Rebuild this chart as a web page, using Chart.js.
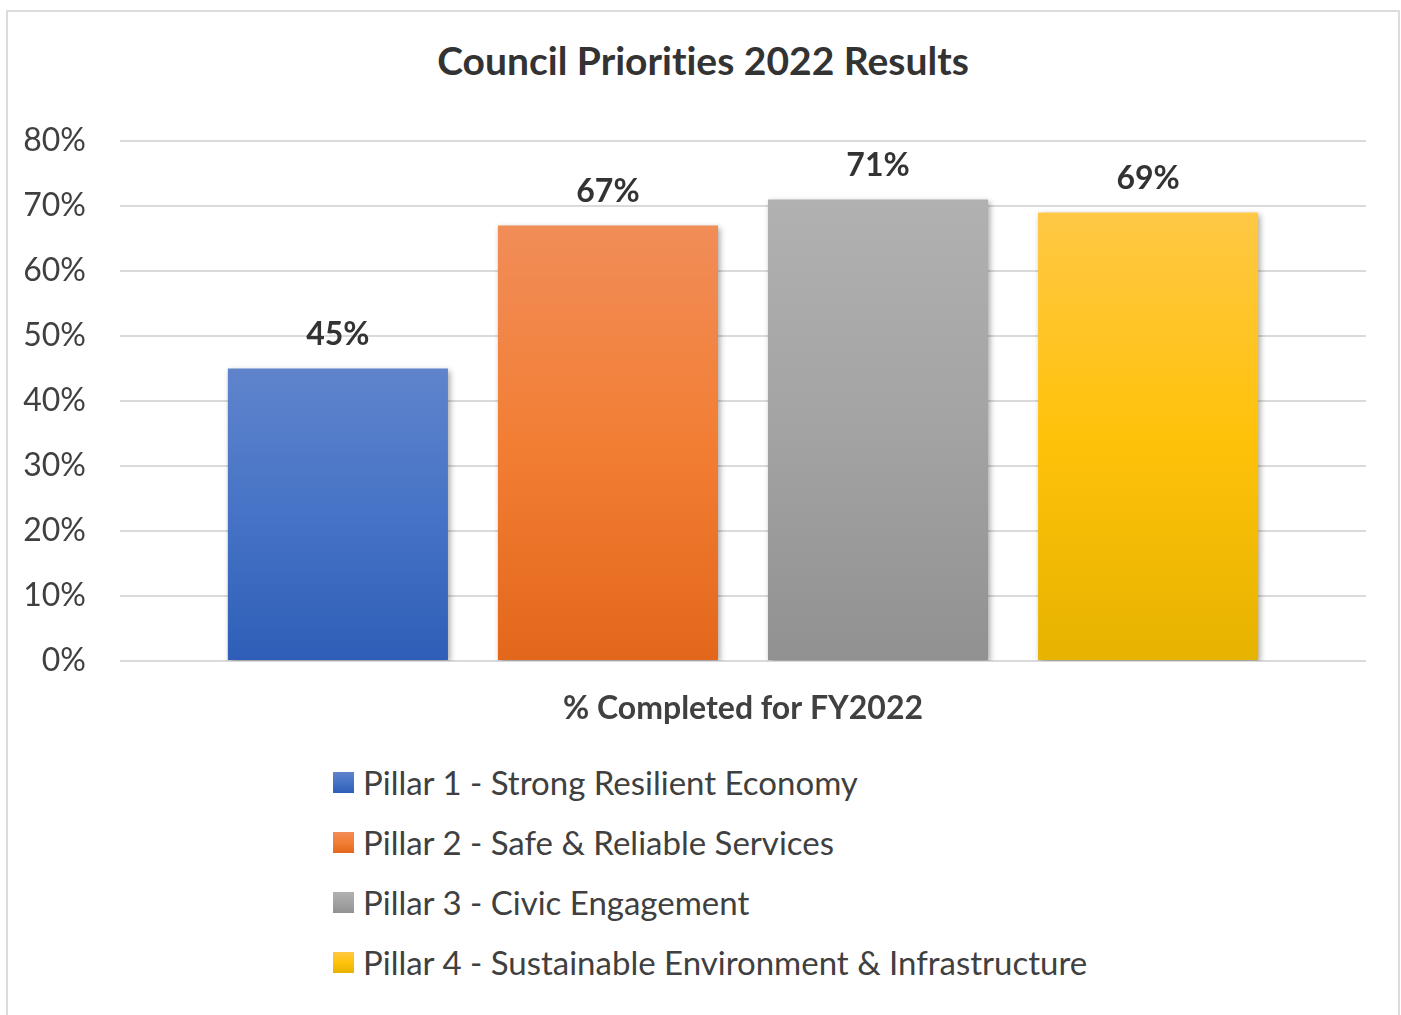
<!DOCTYPE html>
<html lang="en">
<head>
  <meta charset="UTF-8" />
  <title>Council Priorities 2022 Results</title>
  <script src="https://cdn.jsdelivr.net/npm/chart.js"></script>
  <style>
    body {
      margin: 0;
      background: #fff;
      font-family: Lato, 'Open Sans', sans-serif;
      font-variant-ligatures: none;
      color: #404040;
    }
    .frame {
      position: absolute;
      left: 6px;
      top: 10px;
      width: 1394px;
      height: 1020px;
      box-sizing: border-box;
      border: 2px solid #dcdcdc;
      border-bottom: none;
    }
    h1 {
      position: absolute;
      left: 0;
      width: 1406px;
      top: 36px;
      margin: 0;
      text-align: center;
      font-size: 39px;
      line-height: 48px;
      font-weight: bold;
      color: #333;
    }
    .chart-wrap {
      position: absolute;
      left: 0;
      top: 0;
      width: 1401px;
      height: 740px;
    }
    #legend {
      position: absolute;
      left: 333px;
      top: 752px;
      margin: 0;
      padding: 0;
      list-style: none;
    }
    #legend li {
      display: flex;
      align-items: center;
      height: 60px;
      font-size: 33px;
      color: #404040;
    }
    #legend .swatch {
      width: 21px;
      height: 21px;
      margin-right: 9px;
    }
  </style>
</head>
<body>

<div class="frame"></div>
<h1>Council Priorities 2022 Results</h1>
<div class="chart-wrap"><canvas id="chart"></canvas></div>
<ul id="legend"></ul>

<script>
  // data
  const categories = ['% Completed for FY2022'];
  const seriesNames = [
    'Pillar 1 - Strong Resilient Economy',
    'Pillar 2 - Safe & Reliable Services',
    'Pillar 3 - Civic Engagement',
    'Pillar 4 - Sustainable Environment & Infrastructure'
  ];
  const pillar1 = [0.45];
  const pillar2 = [0.67];
  const pillar3 = [0.71];
  const pillar4 = [0.69];
  const yTicks = [0, 0.1, 0.2, 0.3, 0.4, 0.5, 0.6, 0.7, 0.8];

  // top / middle / bottom shades for each bar
  const shades = [
    ['#5f84cc', '#4673c6', '#2e5eb7'],
    ['#f18d58', '#f27e34', '#e3671b'],
    ['#b1b1b1', '#a3a3a3', '#919191'],
    ['#ffc845', '#ffc20a', '#e6b300']
  ];

  const FONT = "Lato, 'Open Sans', sans-serif";

  function barGradient(i) {
    return (ctx) => {
      const chart = ctx.chart;
      const { chartArea, scales } = chart;
      if (!chartArea || ctx.parsed === undefined) return shades[i][1];
      const top = scales.y.getPixelForValue(ctx.parsed.y);
      const bottom = scales.y.getPixelForValue(0);
      const g = chart.ctx.createLinearGradient(0, top, 0, bottom);
      g.addColorStop(0, shades[i][0]);
      g.addColorStop(0.5, shades[i][1]);
      g.addColorStop(1, shades[i][2]);
      return g;
    };
  }

  const seriesValues = [pillar1, pillar2, pillar3, pillar4];
  const datasets = seriesNames.map((name, i) => ({
    label: name,
    data: seriesValues[i],
    backgroundColor: barGradient(i),
    borderWidth: 0,
    categoryPercentage: 0.867,
    barPercentage: 0.815
  }));

  const pct = v => Math.round(v * 100) + '%';

  // soft shadow under the bars
  const barShadow = {
    id: 'barShadow',
    beforeDatasetDraw(chart) {
      const c = chart.ctx;
      c.save();
      c.shadowColor = 'rgba(0,0,0,0.35)';
      c.shadowBlur = 6;
      c.shadowOffsetX = 2;
      c.shadowOffsetY = 2;
    },
    afterDatasetDraw(chart) {
      chart.ctx.restore();
    }
  };

  // value labels above each bar
  const valueLabels = {
    id: 'valueLabels',
    afterDatasetsDraw(chart) {
      const c = chart.ctx;
      c.save();
      c.font = 'bold 32px ' + FONT;
      c.fillStyle = '#333333';
      c.textAlign = 'center';
      c.textBaseline = 'middle';
      chart.data.datasets.forEach((ds, i) => {
        chart.getDatasetMeta(i).data.forEach((bar, j) => {
          c.fillText(pct(ds.data[j]), bar.x, bar.y - 34);
        });
      });
      c.restore();
    }
  };

  const chart = new Chart(document.getElementById('chart'), {
    type: 'bar',
    data: { labels: categories, datasets },
    plugins: [barShadow, valueLabels],
    options: {
      responsive: true,
      maintainAspectRatio: false,
      animation: false,
      layout: { padding: { top: 141, right: 35, left: 0, bottom: 0 } },
      plugins: {
        legend: { display: false },
        tooltip: { enabled: false }
      },
      scales: {
        x: {
          grid: { display: false },
          border: { display: false },
          ticks: {
            color: '#404040',
            font: { family: FONT, size: 32, weight: 'bold' },
            padding: 20
          },
          afterFit(scale) { scale.height = 79; }
        },
        y: {
          min: 0,
          max: 0.8,
          afterBuildTicks(scale) { scale.ticks = yTicks.map(v => ({ value: v })); },
          grid: { color: '#dadada', lineWidth: 2, drawTicks: false },
          border: { display: false },
          ticks: {
            color: '#404040',
            font: { family: FONT, size: 32 },
            padding: 34,
            callback: v => pct(v)
          },
          afterFit(scale) { scale.width = 120; }
        }
      }
    }
  });

  // vertical legend, one pillar per line
  const legend = document.getElementById('legend');
  chart.data.datasets.forEach((ds, i) => {
    const li = document.createElement('li');
    const sw = document.createElement('span');
    sw.className = 'swatch';
    sw.style.background = `linear-gradient(${shades[i][0]}, ${shades[i][1]}, ${shades[i][2]})`;
    li.appendChild(sw);
    li.appendChild(document.createTextNode(ds.label));
    legend.appendChild(li);
  });
</script>
</body>
</html>
